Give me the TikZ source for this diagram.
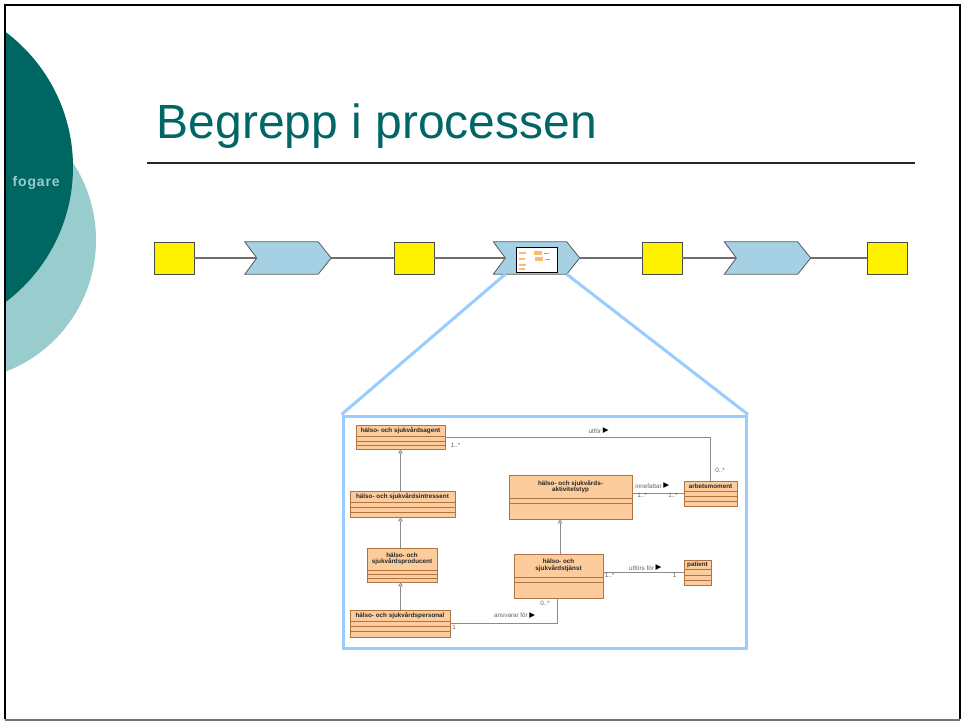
\documentclass[tikz,border=0pt]{standalone}
\usepackage{fontspec}
\setmainfont{Liberation Sans}
\newfontfamily\dejavu{DejaVu Sans}
\usetikzlibrary{arrows.meta,fit,calc}

\definecolor{tealdark}{RGB}{0,102,98}
\definecolor{teallight}{RGB}{153,204,204}
\definecolor{titlec}{RGB}{0,102,102}
\definecolor{chevc}{RGB}{166,208,227}
\definecolor{zoomb}{RGB}{153,204,255}
\definecolor{umlfill}{RGB}{252,204,156}
\definecolor{umlline}{RGB}{176,116,66}
\definecolor{connc}{RGB}{140,140,140}
\definecolor{procline}{RGB}{110,110,110}
\definecolor{labc}{RGB}{100,100,100}

\newcommand\chevron[2]{%
  \node[minimum width=86pt, minimum height=32pt, inner sep=0] (#1) at (#2,258) {};
  \draw[chevst] (#1.north west) -- ($(#1.north east)+(-13,0)$) -- (#1.east)
     -- ($(#1.south east)+(-13,0)$) -- (#1.south west) -- ($(#1.west)+(12,0)$) -- cycle;
  \coordinate (#1n) at ($(#1.west)+(12,0)$);}

% name, x1, y1, x2, y2, split1, split2, split3(or same), text
\newcommand\umlcls[9]{%
  \coordinate (#1nw) at (#2,#3);
  \coordinate (#1se) at (#4,#5);
  \node[umlbox, fit=(#1nw)(#1se)] (#1) {};
  \draw[umlline, line width=0.6pt] (#2,#6) -- (#4,#6);
  \draw[umlline, line width=0.6pt] (#2,#7) -- (#4,#7);
  \draw[umlline, line width=0.6pt] (#2,#8) -- (#4,#8);
  \node[umltext] (#1t) at ({(#2+#4)/2},{(#3+#6)/2}) {#9};}

\begin{document}
\begin{tikzpicture}[x=1pt,y=-1pt,
  ysq/.style={draw=black!70, fill=yellow, line width=0.8pt, minimum width=40pt, minimum height=32pt, inner sep=0},
  chevst/.style={draw=black!65, fill=chevc, line width=0.8pt},
  proc/.style={draw=procline, line width=1.6pt},
  zoomline/.style={draw=zoomb, line width=3pt},
  umlbox/.style={draw=umlline, fill=umlfill, line width=0.6pt, inner sep=0},
  umltext/.style={font=\bfseries\fontsize{6.3}{6.7}\selectfont, text=black!85, align=center, inner sep=0},
  assoc/.style={draw=connc, line width=0.8pt},
  gen/.style={draw=connc, line width=0.8pt, -{Triangle[open, length=4pt, width=4.5pt]}},
  lab/.style={font=\fontsize{6.3}{7}\selectfont, text=labc, inner sep=0},
  tri/.style={font=\dejavu\fontsize{7.5}{7.5}\selectfont, text=black, inner sep=0}
]
\useasboundingbox (0,0) rectangle (965,721);
\fill[white] (0,0) rectangle (965,721);

% decorative circles
\begin{scope}
  \clip (5,5) rectangle (960,719);
  \fill[teallight] (-45,240) circle[radius=141pt];
  \fill[tealdark] (-96,167) circle[radius=169pt];
\end{scope}
\node[anchor=base west, inner sep=0, text=teallight,
      font=\bfseries\fontsize{14}{14}\selectfont\addfontfeature{LetterSpace=6}] (fog) at (12.5,186) {fogare};

% slide border
\draw[black, line width=2.5pt] (5,719) -- (5,5) -- (960,5) -- (960,719);
\draw[black!55, line width=2pt] (5,720) -- (960,720);

% title
\node[anchor=base west, inner sep=0, text=titlec, font=\fontsize{48}{48}\selectfont] (title) at (156.5,138) {Begrepp i processen};
\draw[black!85, line width=1.2pt] (147,163) -- (915,163);

% process row
\node[ysq] (y1) at (174,258) {};
\node[ysq] (y2) at (414,258) {};
\node[ysq] (y3) at (662,258) {};
\node[ysq] (y4) at (887,258) {};
\chevron{c1}{288}
\chevron{c2}{536.5}
\chevron{c3}{767.5}
\draw[proc] (y1.east) -- (c1n);
\draw[proc] (c1.east) -- (y2.west);
\draw[proc] (y2.east) -- (c2n);
\draw[proc] (c2.east) -- (y3.west);
\draw[proc] (y3.east) -- (c3n);
\draw[proc] (c3.east) -- (y4.west);

% mini icon in chevron 2
\node[draw=black, fill=white, line width=0.8pt, minimum width=41pt, minimum height=25pt, inner sep=0] (icon) at (536.5,259.5) {};
\begin{scope}[orange!55]
  \fill (519,252) rectangle (526,253.5);
  \fill (534,251) rectangle (542,254.5);
  \fill (519,258) rectangle (525,259.5);
  \fill (535,257) rectangle (543,260.5);
  \fill (519,264) rectangle (526,265.5);
  \fill (519,268) rectangle (525,269.5);
  \fill[black!35] (544,253) rectangle (549,253.6);
  \fill[black!35] (545,259) rectangle (550,259.6);
\end{scope}

% zoom frame
\coordinate (zl) at ($(c2.south west)+(12,0)$);
\coordinate (zr) at ($(c2.south east)+(-13,0)$);
\node[draw=zoomb, line width=3pt, fill=white, minimum width=403.5pt, minimum height=232.5pt, inner sep=0, anchor=north west] (frame) at (341.5,414.5) {};
\draw[zoomline] (zl) -- (frame.north west);
\draw[zoomline] (zr) -- (frame.north east);

% UML classes
\umlcls{agent}{356}{425}{445}{449}{436}{441}{445}{hälso- och sjukvårdsagent}
\umlcls{intr}{350}{491}{455}{517}{502}{507}{512}{hälso- och sjukvårdsintressent}
\umlcls{prod}{367}{548}{437}{582}{570}{574}{578}{hälso- och\\sjukvårdsproducent}
\umlcls{pers}{350}{610}{450}{637}{621}{626}{631}{hälso- och sjukvårdspersonal}
\umlcls{akt}{509}{475}{632}{519}{498}{503}{503}{hälso- och sjukvårds-\\aktivitetstyp}
\umlcls{arb}{684}{481}{737}{506}{491}{496}{501}{arbetsmoment}
\umlcls{tj}{514}{554}{603}{598}{577}{582}{582}{hälso- och\\sjukvårdstjänst}
\umlcls{pat}{684}{560}{711}{585}{569}{575}{580}{patient}

% generalizations
\draw[gen] (agent.south |- intr.north) -- (agent.south);
\draw[gen] (agent.south |- prod.north) -- (agent.south |- intr.south);
\draw[gen] (agent.south |- pers.north) -- (agent.south |- prod.south);
\coordinate (tjtop) at (560,554);
\draw[gen] (tjtop) -- (tjtop |- akt.south);

% associations
\draw[assoc] (agent.east) -| (arb.north);
\draw[assoc] (akt.east |- arb.west) -- (arb.west);
\draw[assoc] (tj.east |- pat.west) -- (pat.west);
\coordinate (tjbot) at (557,598);
\draw[assoc] (pers.east) -| (tjbot);

% association labels
\node[lab] (l1) at (595,431) {utför};
\node[tri, anchor=west] (l1t) at (l1.east) {\,▶};
\node[lab] (m1) at (455.5,445) {1..*};
\node[lab] (m2) at (720,470) {0..*};
\node[lab] (l2) at (648.5,486) {innefattar};
\node[tri, anchor=west] (l2t) at (l2.east) {\,▶};
\node[lab] (m3) at (642,495.5) {1..*};
\node[lab] (m4) at (673,495.5) {1..*};
\node[lab] (l3) at (641.5,568) {utförs för};
\node[tri, anchor=west] (l3t) at (l3.east) {\,▶};
\node[lab] (m5) at (609.5,575.5) {1..*};
\node[lab] (m6) at (674.5,575.5) {1};
\node[lab] (l4) at (511,615.5) {ansvarar för};
\node[tri, anchor=west] (l4t) at (l4.east) {\,▶};
\node[lab] (m7) at (454,627) {1};
\node[lab] (m8) at (545,603) {0..*};
\end{tikzpicture}
\end{document}
